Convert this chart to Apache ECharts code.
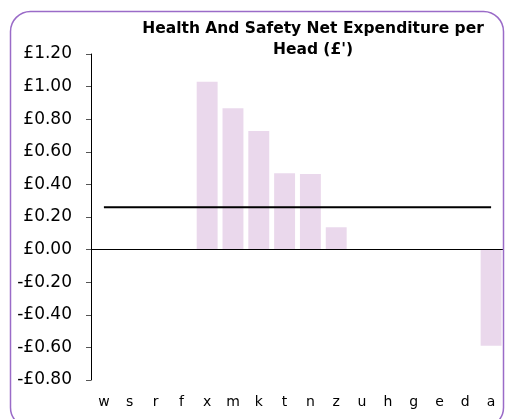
<!DOCTYPE html>
<html>
<head>
<meta charset="utf-8">
<script src="https://cdn.jsdelivr.net/npm/echarts@6/dist/echarts.min.js"></script>
<style>
  html, body { margin: 0; padding: 0; background: #ffffff; }
  #chart { width: 505px; height: 419px; }
</style>
</head>
<body>
<div id="chart"></div>
<script>
// Areas, in ranked order
var categories = ['w', 's', 'r', 'f', 'x', 'm', 'k', 't', 'n', 'z', 'u', 'h', 'g', 'e', 'd', 'a'];
// Net expenditure per head (£); null = no value shown
var expenditure = [null, null, null, null, 1.03, 0.867, 0.728, 0.468, 0.464, 0.137, null, null, null, null, null, -0.59];
// Average across areas (£)
var averageValue = 0.26;
var averageLine = categories.map(function () { return averageValue; });
// Value axis range
var yMin = -0.8, yMax = 1.2, yStep = 0.2;

var font = 'DejaVu Sans, Verdana, sans-serif';
var chart = echarts.init(document.getElementById('chart'), null, { renderer: 'canvas' });

chart.setOption({
  backgroundColor: '#ffffff',
  animation: false,
  title: {
    text: 'Health And Safety Net Expenditure per\nHead (£\')',
    left: 308,
    top: 14,
    textAlign: 'center',
    textStyle: { fontFamily: font, fontSize: 15.5, fontWeight: 'bold', color: '#000000', lineHeight: 20.5 }
  },
  graphic: [{
    type: 'rect',
    shape: { x: 10.5, y: 11.5, width: 493, height: 416, r: 20 },
    style: { fill: 'none', stroke: '#9a6bc8', lineWidth: 1.5 },
    silent: true,
    z: 100
  }],
  grid: { left: 91, right: 1, top: 54, bottom: 39, containLabel: false },
  xAxis: {
    type: 'category',
    data: categories,
    position: 'bottom',
    axisLine: { show: false },
    axisTick: { show: false },
    axisLabel: { fontFamily: font, fontSize: 14, color: '#000000', margin: 15, interval: 0 }
  },
  yAxis: {
    type: 'value',
    min: yMin,
    max: yMax,
    interval: yStep,
    axisLine: { show: true, lineStyle: { color: '#000000', width: 1 } },
    axisTick: { show: true, length: 5, lineStyle: { color: '#555555' } },
    splitLine: { show: false },
    axisLabel: {
      fontFamily: font,
      fontSize: 17,
      color: '#000000',
      margin: 19,
      formatter: function (v) {
        var s = Math.abs(v).toFixed(2);
        return (v < -1e-9 ? '-£' : '£') + s;
      }
    }
  },
  series: [{
    type: 'bar',
    data: expenditure,
    barWidth: '81%',
    itemStyle: { color: '#ead8ec' },
    markLine: {
      silent: true,
      symbol: 'none',
      label: { show: false },
      lineStyle: { color: '#000000', width: 1, type: 'solid' },
      data: [{ yAxis: 0 }]
    }
  }, {
    type: 'line',
    data: averageLine,
    showSymbol: false,
    symbol: 'none',
    lineStyle: { color: '#000000', width: 2 },
    z: 5
  }]
});
</script>
</body>
</html>
